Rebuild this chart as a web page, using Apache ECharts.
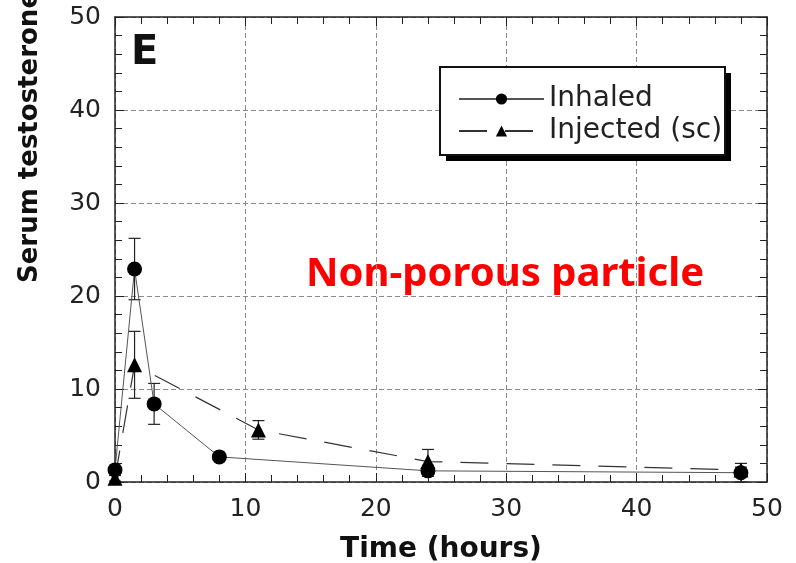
<!DOCTYPE html>
<html>
<head>
<meta charset="utf-8">
<script src="https://cdn.jsdelivr.net/npm/echarts@6/dist/echarts.min.js"></script>
<style>
  html, body { margin: 0; padding: 0; background: #fff; }
  #chart { width: 796px; height: 563px; }
</style>
</head>
<body>
<div id="chart"></div>
<script>
// 数据
const inhaledTime = [0, 1.5, 3, 8, 24, 48];
const inhaledMean = [1.3, 22.9, 8.4, 2.7, 1.2, 1.0];
const inhaledErr = [0, 3.3, 2.2, 0, 0.6, 1.0];

const injectedTime = [0, 1.5, 11, 24, 48];
const injectedMean = [0.4, 12.6, 5.6, 2.2, 1.3];
const injectedErr = [0.3, 3.6, 1.0, 1.3, 0.3];

const xTicks = [0, 10, 20, 30, 40, 50];
const yTicks = [0, 10, 20, 30, 40, 50];

const axisFont = 'DejaVu Sans';

function pairs(t, v) {
    return t.map((x, i) => [x, v[i]]);
}

function errData(t, v, e) {
    return t.map((x, i) => [x, v[i] - e[i], v[i] + e[i]]);
}

// 误差线
function renderErr(params, api) {
    const lo = api.coord([api.value(0), api.value(1)]);
    const hi = api.coord([api.value(0), api.value(2)]);
    if (Math.abs(lo[1] - hi[1]) < 1) return null;
    const w = 6;
    const style = { stroke: '#222', lineWidth: 1.2 };
    return {
        type: 'group',
        children: [
            { type: 'line', shape: { x1: lo[0], y1: lo[1], x2: hi[0], y2: hi[1] }, style },
            { type: 'line', shape: { x1: hi[0] - w, y1: hi[1], x2: hi[0] + w, y2: hi[1] }, style },
            { type: 'line', shape: { x1: lo[0] - w, y1: lo[1], x2: lo[0] + w, y2: lo[1] }, style }
        ]
    };
}

const chart = echarts.init(document.getElementById('chart'));

const baseX = {
    type: 'value',
    min: xTicks[0],
    max: xTicks[xTicks.length - 1],
    interval: 10,
    axisLine: { show: true, onZero: false, lineStyle: { color: '#222', width: 1.5 } },
    axisTick: { show: true, inside: true, length: 9, lineStyle: { color: '#222' } },
    minorTick: { show: true, splitNumber: 5, length: 7, lineStyle: { color: '#222' } }
};
const baseY = {
    type: 'value',
    min: yTicks[0],
    max: yTicks[yTicks.length - 1],
    interval: 10,
    axisLine: { show: true, onZero: false, lineStyle: { color: '#222', width: 1.5 } },
    axisTick: { show: true, inside: true, length: 9, lineStyle: { color: '#222' } },
    minorTick: { show: true, splitNumber: 5, length: 7, lineStyle: { color: '#222' } }
};

const gridLine = { show: true, lineStyle: { color: '#8a8a8a', width: 1, type: [5, 3] } };

chart.setOption({
    animation: false,
    backgroundColor: '#fff',
    grid: { left: 115, right: 29, top: 17, bottom: 81, outerBoundsMode: 'none' },
    xAxis: [
        Object.assign({}, baseX, {
            position: 'bottom',
            name: 'Time (hours)',
            nameLocation: 'middle',
            nameGap: 54,
            nameTextStyle: { fontFamily: axisFont, fontWeight: 'bold', fontSize: 28, color: '#111' },
            axisLabel: { margin: 15, fontFamily: axisFont, fontSize: 25, color: '#222' },
            splitLine: gridLine
        }),
        Object.assign({}, baseX, {
            position: 'top',
            axisLabel: { show: false },
            splitLine: { show: false }
        })
    ],
    yAxis: [
        Object.assign({}, baseY, {
            position: 'left',
            axisLabel: { margin: 14, fontFamily: axisFont, fontSize: 25, color: '#222' },
            splitLine: gridLine
        }),
        Object.assign({}, baseY, {
            position: 'right',
            axisLabel: { show: false },
            splitLine: { show: false }
        })
    ],
    legend: {
        orient: 'vertical',
        left: 440,
        top: 67,
        padding: [17, 10, 10, 18],
        itemWidth: 85,
        itemHeight: 14,
        itemGap: 2,
        z: 10,
        textStyle: { fontFamily: axisFont, fontSize: 28, color: '#222', lineHeight: 30 },
        data: ['Inhaled', 'Injected (sc)']
    },
    graphic: [
        // 图例框及阴影
        {
            type: 'rect', z: 5,
            shape: { x: 446, y: 73, width: 285, height: 88 },
            style: { fill: '#000' }
        },
        {
            type: 'rect', z: 6,
            shape: { x: 440, y: 67, width: 285, height: 88 },
            style: { fill: '#fff', stroke: '#111', lineWidth: 2 }
        },
        {
            type: 'text', left: 131, top: 34,
            style: { text: 'E', font: 'bold 40px "DejaVu Sans"', fill: '#111' }
        },
        {
            type: 'text', x: 505, y: 275,
            style: {
                text: 'Non-porous particle', font: 'bold 40px "Noto Sans"', fill: '#ff0000',
                textAlign: 'center', textVerticalAlign: 'middle'
            }
        },
        {
            type: 'text', x: 30, y: 137, rotation: Math.PI / 2,
            style: {
                text: 'Serum testosterone', font: 'bold 26px "DejaVu Sans"', fill: '#111',
                textAlign: 'center', textVerticalAlign: 'middle'
            }
        }
    ],
    series: [
        {
            name: 'Inhaled',
            type: 'line',
            data: pairs(inhaledTime, inhaledMean),
            symbol: 'circle',
            symbolSize: 15,
            itemStyle: { color: '#000' },
            lineStyle: { color: '#555', width: 1, type: 'solid' },
            z: 3
        },
        {
            name: 'Injected (sc)',
            type: 'line',
            data: pairs(injectedTime, injectedMean),
            symbol: 'triangle',
            symbolSize: 15,
            itemStyle: { color: '#000' },
            lineStyle: { color: '#333', width: 1.2, type: [28, 18] },
            z: 2
        },
        {
            type: 'custom',
            renderItem: renderErr,
            data: errData(inhaledTime, inhaledMean, inhaledErr),
            encode: { x: 0, y: [1, 2] },
            silent: true,
            z: 1
        },
        {
            type: 'custom',
            renderItem: renderErr,
            data: errData(injectedTime, injectedMean, injectedErr),
            encode: { x: 0, y: [1, 2] },
            silent: true,
            z: 1
        }
    ]
});
</script>
</body>
</html>
